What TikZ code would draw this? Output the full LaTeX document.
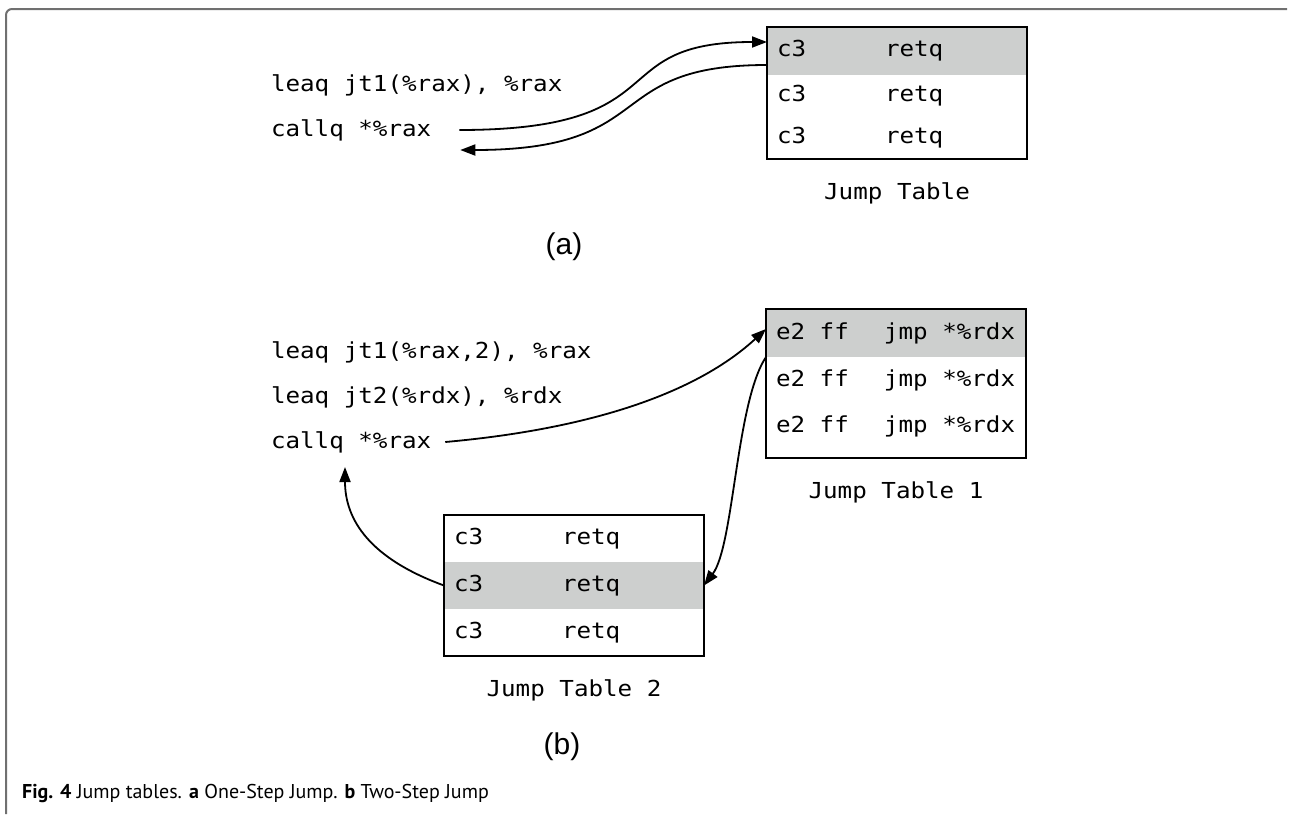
\documentclass[tikz,border=0pt]{standalone}
\usepackage{fontspec}
\usetikzlibrary{positioning,fit,arrows.meta}

\newfontfamily\codefont{DejaVu Sans Mono}[FakeStretch=1.1]
\newfontfamily\tagfont{Liberation Sans}
\newfontfamily\capfont{PT Sans}
\definecolor{rowgray}{RGB}{205,207,206}
\definecolor{framegray}{RGB}{112,112,112}
% one table row: bytes column, then instruction
\newcommand{\jtcell}[2]{\makebox[240pt][l]{\makebox[108pt][l]{#1}#2}}

\tikzset{
  code/.style={font=\codefont\fontsize{22}{26}\selectfont, inner sep=0pt, outer sep=0pt, anchor=west},
  jtrow/.style={code, anchor=center, minimum width=260pt, minimum height=46pt, inner xsep=10pt},
  hirow/.style={jtrow, fill=rowgray, minimum height=48pt},
  jtbox/.style={draw, line width=2pt, inner sep=0pt, outer sep=0pt},
  jump/.style={line width=1.8pt, -{Triangle[length=15pt,width=11pt]}},
}

\begin{document}
\begin{tikzpicture}[x=1pt,y=-1pt]
\useasboundingbox (0,0) rectangle (1289,814);
\draw[framegray, line width=2pt, rounded corners=6pt] (6,814) -- (6,9) -- (1287,9);

% (a) one-step jump
\node[code] (leaA) at (271,85) {leaq jt1(\%rax), \%rax};
\node[code] (callA) at (271,130) {callq *\%rax};

\node[hirow, minimum height=48pt] (jtA1) at (897,51) {\jtcell{c3}{retq}};
\node[jtrow, minimum height=42pt, below=0pt of jtA1] (jtA2) {\jtcell{c3}{retq}};
\node[jtrow, minimum height=42pt, below=0pt of jtA2] (jtA3) {\jtcell{c3}{retq}};
\node[jtbox, fit=(jtA1)(jtA3)] (jtA) {};
\node[code, below=24pt of jtA] (nameA) {Jump Table};

\draw[jump] ([xshift=28pt]callA.east) .. controls +(222,0) and +(-167,0) .. ([yshift=9pt]jtA1.west);
\draw[jump] ([yshift=10pt]jtA1.south west) .. controls +(-167,0) and +(201,0) .. ([xshift=29pt,yshift=-20pt]callA.east);

\node[font=\tagfont\fontsize{30}{36}\selectfont] (tagA) at (564,247) {(a)};

% (b) two-step jump
\node[code] (leaB1) at (271,352) {leaq jt1(\%rax,2), \%rax};
\node[code] (leaB2) at (271,397) {leaq jt2(\%rdx), \%rdx};
\node[code] (callB) at (271,442) {callq *\%rax};

\node[hirow] (jtB1) at (896,333) {\jtcell{e2 ff}{jmp *\%rdx}};
\node[jtrow, below=0pt of jtB1] (jtB2) {\jtcell{e2 ff}{jmp *\%rdx}};
\node[jtrow, below=0pt of jtB2] (jtB3) {\jtcell{e2 ff}{jmp *\%rdx}};
\coordinate[below=9pt of jtB3.south] (jtBend);
\node[jtbox, fit=(jtB1)(jtB3)(jtBend)] (jtB) {};
\node[code, below=24pt of jtB] (nameB) {Jump Table 1};

\node[jtrow, minimum height=47pt] (jtC1) at (574,538.5) {\jtcell{c3}{retq}};
\node[hirow, minimum height=47pt, below=0pt of jtC1] (jtC2) {\jtcell{c3}{retq}};
\node[jtrow, minimum height=47pt, below=0pt of jtC2] (jtC3) {\jtcell{c3}{retq}};
\node[jtbox, fit=(jtC1)(jtC3)] (jtC) {};
\node[code, below=24pt of jtC] (nameC) {Jump Table 2};

\draw[jump] ([xshift=14pt]callB.east) .. controls +(156,-14) and +(-65,60) .. ([yshift=4pt]jtB1.west);
\draw[jump] (jtB1.south west) .. controls +(-30,45) and +(30,-40) .. (jtC2.east);
\draw[jump] (jtC2.west) .. controls +(-74,-27) and +(0,53) .. ([xshift=74pt,yshift=-25pt]callB.west);

\node[font=\tagfont\fontsize{30}{36}\selectfont] (tagB) at (562,747) {(b)};

\node[anchor=west, inner sep=0pt, font=\capfont\fontsize{20}{24}\selectfont] (figcap) at (22,793)
  {\textbf{Fig. 4} Jump tables. \textbf{a} One-Step Jump. \textbf{b} Two-Step Jump};
\end{tikzpicture}
\end{document}
